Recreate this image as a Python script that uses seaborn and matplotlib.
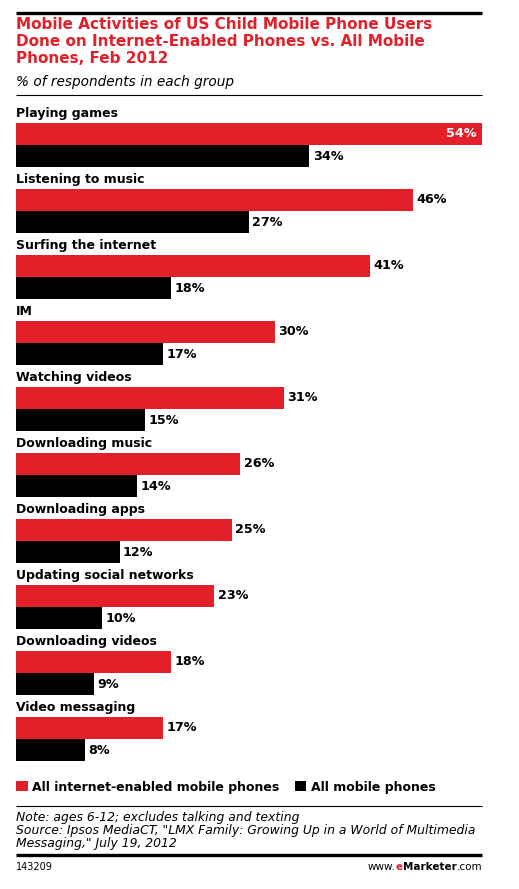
import matplotlib
matplotlib.use('Agg')
import matplotlib.pyplot as plt
from matplotlib.lines import Line2D
from matplotlib.patches import Patch
import seaborn as sns
import pandas as pd

# Data
activities = ['Playing games', 'Listening to music', 'Surfing the internet', 'IM',
              'Watching videos', 'Downloading music', 'Downloading apps',
              'Updating social networks', 'Downloading videos', 'Video messaging']
internet_phones = [54, 46, 41, 30, 31, 26, 25, 23, 18, 17]
all_phones = [34, 27, 18, 17, 15, 14, 12, 10, 9, 8]
series = ['All internet-enabled mobile phones', 'All mobile phones']

RED = '#E3202A'
BLACK = '#000000'

df = pd.DataFrame({
    'activity': activities * 2,
    'value': internet_phones + all_phones,
    'group': [series[0]] * len(activities) + [series[1]] * len(activities),
})

sns.set_style('white')
plt.rcParams['font.family'] = ['DejaVu Sans']
plt.rcParams['text.color'] = 'black'

W, H = 519, 889
fig = plt.figure(figsize=(W / 100, H / 100), dpi=100)

def fx(px):
    return px / W

def fy(py):
    return 1 - py / H

# axes placement: category 0 centered at pixel 145, pitch 66 px
x0, x1 = 16, 482
ylim_top, ylim_bot = -0.6, 9.45
top_px = 145 + ylim_top * 66
bot_px = 145 + ylim_bot * 66
ax = fig.add_axes([fx(x0), fy(bot_px), fx(x1 - x0), (bot_px - top_px) / H])

sns.barplot(data=df, y='activity', x='value', hue='group', orient='h',
            palette=[RED, BLACK], width=0.68, saturation=1, ax=ax,
            legend=False, errorbar=None, linewidth=0)

ax.set_xlim(0, 54)
ax.set_ylim(ylim_bot, ylim_top)
ax.axis('off')

for i, name in enumerate(activities):
    ax.text(0, i - 0.47, name, fontsize=9, fontweight='bold', va='center',
            ha='left', clip_on=False)
    r = internet_phones[i]
    b = all_phones[i]
    if r >= 50:
        ax.text(r - 0.6, i - 0.17, f'{r}%', fontsize=9.2, fontweight='bold',
                color='white', va='center', ha='right')
    else:
        ax.text(r + 0.4, i - 0.17, f'{r}%', fontsize=9.2, fontweight='bold',
                va='center', ha='left')
    ax.text(b + 0.4, i + 0.17, f'{b}%', fontsize=9.2, fontweight='bold',
            va='center', ha='left')

# rules
def hline(py, lw):
    fig.add_artist(Line2D([fx(x0), fx(x1)], [fy(py), fy(py)], color='black',
                          linewidth=lw, solid_capstyle='butt'))

hline(13, 2.4)
hline(95, 0.8)
hline(806, 0.8)
hline(855, 2.4)

# title block
fig.text(fx(16), fy(17), 'Mobile Activities of US Child Mobile Phone Users\n'
         'Done on Internet-Enabled Phones vs. All Mobile\nPhones, Feb 2012',
         color=RED, fontsize=11, fontweight='bold', va='top', ha='left',
         linespacing=1.15)
fig.text(fx(16), fy(82), '% of respondents in each group', fontsize=9.8,
         style='italic', va='center', ha='left')

# legend
handles = [Patch(facecolor=RED, edgecolor='none'), Patch(facecolor=BLACK, edgecolor='none')]
fig.legend(handles, series, loc='center left', bbox_to_anchor=(fx(5), fy(787)),
           ncol=2, frameon=False, handlelength=0.9, handleheight=0.9,
           handletextpad=0.4, columnspacing=1.2,
           prop={'weight': 'bold', 'size': 9})

# notes
fig.text(fx(16), fy(811), 'Note: ages 6-12; excludes talking and texting\n'
         'Source: Ipsos MediaCT, "LMX Family: Growing Up in a World of Multimedia\n'
         'Messaging," July 19, 2012', fontsize=8.9, style='italic',
         va='top', ha='left', linespacing=0.98)

fig.text(fx(16), fy(867), '143209', fontsize=7, va='center', ha='left')
t1 = fig.text(fx(366), fy(867), 'www.', fontsize=7.5, va='center', ha='left')
t2 = fig.text(0, 0, 'e', fontsize=7.5, fontweight='bold', color=RED, va='bottom', ha='left')
t3 = fig.text(0, 0, 'Marketer', fontsize=7.5, fontweight='bold', va='bottom', ha='left')
t4 = fig.text(0, 0, '.com', fontsize=7.5, va='bottom', ha='left')
fig.canvas.draw()
r = fig.canvas.get_renderer()
prev = t1
for t in (t2, t3, t4):
    bb = prev.get_window_extent(r).transformed(fig.transFigure.inverted())
    t.set_position((bb.x1, bb.y0))
    prev = t
# right-align the group to x1
bb = t4.get_window_extent(r).transformed(fig.transFigure.inverted())
shift = fx(x1) - bb.x1
for t in (t1, t2, t3, t4):
    x, y = t.get_position()
    t.set_position((x + shift, y))

fig.savefig('out.png', dpi=100)
